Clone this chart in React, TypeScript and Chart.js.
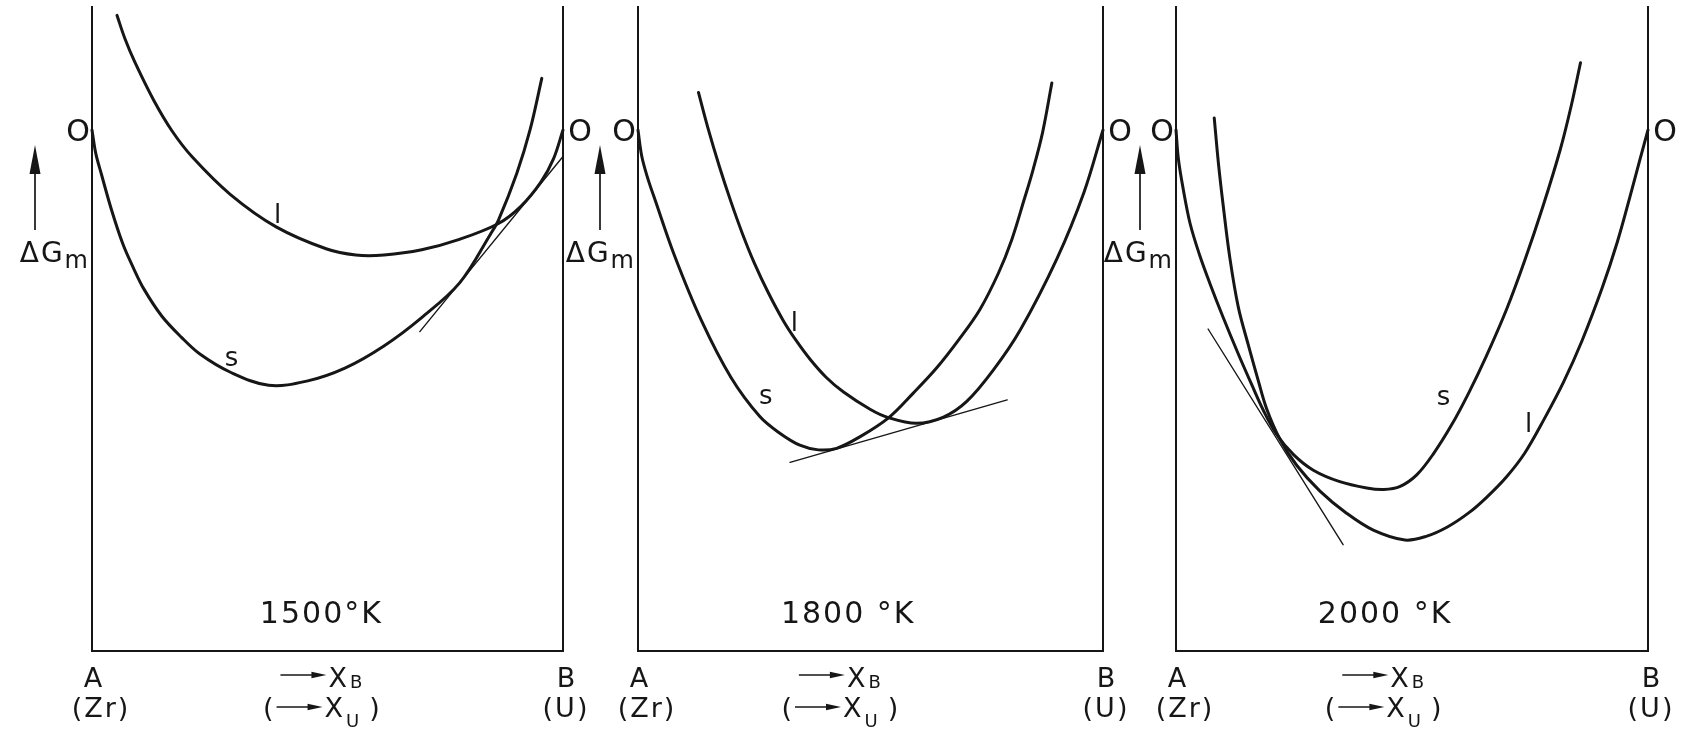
import React, { useEffect, useRef } from 'react';
import { Chart, registerables } from 'chart.js';

Chart.register(...registerables);

// ---------- data (x = mole fraction of B, y = ΔG_m in arbitrary units) ----------
const Y_MIN = -10;
const Y_MAX = 2.36;

// 1500 °K
const S1_X = [0, 0.008, 0.02, 0.042, 0.066, 0.088, 0.11, 0.148, 0.19, 0.229, 0.294, 0.375, 0.456, 0.537, 0.619, 0.7, 0.781, 0.846, 0.863, 0.902, 0.93, 0.955];
const S1_Y = [0, -0.45, -0.85, -1.55, -2.2, -2.65, -3.05, -3.57, -3.98, -4.3, -4.65, -4.9, -4.82, -4.57, -4.15, -3.6, -2.93, -2.0, -1.73, -0.83, 0.0, 0.99];
const L1_X = [0.053, 0.07, 0.091, 0.131, 0.17, 0.213, 0.294, 0.391, 0.497, 0.56, 0.62, 0.7, 0.78, 0.862, 0.91, 0.953, 0.98, 1.0];
const L1_Y = [2.2, 1.75, 1.3, 0.57, -0.02, -0.52, -1.24, -1.86, -2.28, -2.4, -2.4, -2.3, -2.1, -1.8, -1.47, -1.0, -0.55, 0];
const T1_X = [0.696, 1.0];
const T1_Y = [-3.87, -0.51];

// 1800 °K
const S2_X = [0, 0.008, 0.02, 0.037, 0.078, 0.136, 0.2, 0.262, 0.305, 0.348, 0.388, 0.427, 0.477, 0.538, 0.592, 0.642, 0.692, 0.735, 0.775, 0.804, 0.83, 0.85, 0.87, 0.89];
const S2_Y = [0, -0.5, -0.9, -1.35, -2.4, -3.65, -4.75, -5.5, -5.82, -6.05, -6.14, -6.11, -5.89, -5.53, -5.05, -4.57, -4.0, -3.45, -2.75, -2.1, -1.35, -0.75, -0.05, 0.9];
const L2_X = [0.13, 0.15, 0.175, 0.2, 0.225, 0.25, 0.28, 0.3125, 0.34, 0.37, 0.405, 0.442, 0.499, 0.538, 0.599, 0.657, 0.707, 0.764, 0.822, 0.901, 0.959, 1.0];
const L2_Y = [0.72, 0.05, -0.7, -1.38, -2.0, -2.55, -3.12, -3.66, -4.04, -4.4, -4.75, -5.03, -5.36, -5.52, -5.63, -5.51, -5.21, -4.61, -3.84, -2.47, -1.2, 0];
const T2_X = [0.327, 0.794];
const T2_Y = [-6.38, -5.18];

// 2000 °K
const S3_X = [0, 0.005, 0.015, 0.03, 0.05, 0.072, 0.1, 0.132, 0.16, 0.185, 0.213, 0.249, 0.291, 0.347, 0.404, 0.44, 0.475, 0.51, 0.545, 0.584, 0.62, 0.657, 0.7, 0.739, 0.778, 0.814, 0.837, 0.857];
const S3_Y = [0, -0.55, -1.12, -1.8, -2.4, -2.95, -3.6, -4.3, -4.88, -5.38, -5.84, -6.23, -6.53, -6.75, -6.87, -6.9, -6.84, -6.62, -6.22, -5.66, -5.05, -4.35, -3.45, -2.5, -1.45, -0.38, 0.45, 1.29];
const L3_X = [0.081, 0.09, 0.1, 0.114, 0.132, 0.153, 0.174, 0.192, 0.22, 0.256, 0.305, 0.362, 0.418, 0.485, 0.53, 0.575, 0.62, 0.657, 0.7, 0.739, 0.78, 0.821, 0.86, 0.903, 0.935, 0.961, 0.982, 1.0];
const L3_Y = [0.23, -0.65, -1.45, -2.45, -3.4, -4.12, -4.8, -5.35, -5.93, -6.44, -6.93, -7.36, -7.68, -7.87, -7.8, -7.62, -7.35, -7.06, -6.66, -6.2, -5.55, -4.84, -4.05, -3.03, -2.15, -1.31, -0.6, 0];
const T3_X = [0.068, 0.354];
const T3_Y = [-3.82, -7.96];

// ---------- texts ----------
const TEMP_LABELS = ['1500°K', '1800 °K', '2000 °K'];
const PHASE_S = 's';
const PHASE_L = 'l';
const ZERO_TEXT = 'O';
const END_A = ['A', '(Zr)'];
const END_B = ['B', '(U)'];
const AXIS_SUB_TOP = 'B';
const AXIS_SUB_BOTTOM = 'U';
const Y_TITLE = 'ΔG';
const Y_TITLE_SUB = 'm';

// ---------- layout (pixels / label anchors) ----------
const H = 735;
const TOP = 7;
const BOTTOM = 651;
const INK = '#161616';
const FONT = '"DejaVu Sans", "Liberation Sans", sans-serif';

const LAYOUT = [
  { left: 0, width: 610, a: 92, b: 563, arrowDx: -57, tempU: 0.487, axisU: 0.487, sLab: [0.296, -4.4], lLab: [0.394, -1.6] },
  { left: 540, width: 600, a: 638, b: 1103, arrowDx: -38, tempU: 0.452, axisU: 0.434, sLab: [0.275, -5.12], lLab: [0.336, -3.66] },
  { left: 1080, width: 608, a: 1176, b: 1648, arrowDx: -36, tempU: 0.443, axisU: 0.439, sLab: [0.567, -5.15], lLab: [0.747, -5.6] },
];

const zip = (xs: number[], ys: number[]) => xs.map((x, i) => ({ x, y: ys[i] }));

const PANELS = [
  { s: zip(S1_X, S1_Y), l: zip(L1_X, L1_Y), t: zip(T1_X, T1_Y), temp: TEMP_LABELS[0] },
  { s: zip(S2_X, S2_Y), l: zip(L2_X, L2_Y), t: zip(T2_X, T2_Y), temp: TEMP_LABELS[1] },
  { s: zip(S3_X, S3_Y), l: zip(L3_X, L3_Y), t: zip(T3_X, T3_Y), temp: TEMP_LABELS[2] },
];

function setFont(ctx: CanvasRenderingContext2D, size: number, spacing = 0) {
  ctx.font = `${size}px ${FONT}`;
  (ctx as any).letterSpacing = `${spacing}px`;
}

function arrowRight(ctx: CanvasRenderingContext2D, x1: number, x2: number, y: number) {
  ctx.lineWidth = 1.4;
  ctx.beginPath();
  ctx.moveTo(x1, y);
  ctx.lineTo(x2 - 8, y);
  ctx.stroke();
  ctx.beginPath();
  ctx.moveTo(x2, y);
  ctx.lineTo(x2 - 15, y - 3.2);
  ctx.lineTo(x2 - 15, y + 3.2);
  ctx.closePath();
  ctx.fill();
}

function composition(ctx: CanvasRenderingContext2D, cx: number, baseY: number, sub: string, subDy: number, arrowDy: number, paren: boolean) {
  const big = 27;
  const small = 18;
  const arrowLen = 46;
  setFont(ctx, big);
  const wOpen = paren ? ctx.measureText('(').width + 3 : 0;
  const wX = ctx.measureText('X').width;
  const wClose = paren ? ctx.measureText(')').width + 10 : 0;
  setFont(ctx, small);
  const wSub = ctx.measureText(sub).width;
  const total = wOpen + arrowLen + 2 + wX + 3 + wSub + wClose;
  let x = cx - total / 2;
  ctx.textAlign = 'left';
  if (paren) {
    setFont(ctx, big);
    ctx.fillText('(', x, baseY);
    x += wOpen;
  }
  arrowRight(ctx, x, x + arrowLen, baseY + arrowDy);
  x += arrowLen + 2;
  setFont(ctx, big);
  ctx.fillText('X', x, baseY);
  x += wX + 3;
  setFont(ctx, small);
  ctx.fillText(sub, x, baseY + subDy);
  x += wSub;
  if (paren) {
    setFont(ctx, big);
    ctx.fillText(')', x + 10, baseY);
  }
}

function makeTextPlugin(idx: number) {
  const p = LAYOUT[idx];
  return {
    id: 'figureText' + idx,
    afterDraw(chart: any) {
      const { ctx, chartArea } = chart;
      const xs = chart.scales.x;
      const ys = chart.scales.y;
      const y0 = ys.getPixelForValue(0);
      const left = chartArea.left;
      const right = chartArea.right;
      const bottom = chartArea.bottom;
      ctx.save();
      ctx.fillStyle = INK;
      ctx.strokeStyle = INK;
      ctx.textBaseline = 'alphabetic';

      // zero marks
      setFont(ctx, 30);
      ctx.textAlign = 'center';
      ctx.fillText(ZERO_TEXT, left - 14, y0 + 11);
      ctx.fillText(ZERO_TEXT, right + 17, y0 + 11);

      // ΔG_m with arrow
      setFont(ctx, 28, 2);
      const wDG = ctx.measureText(Y_TITLE).width;
      setFont(ctx, 24);
      const wM = ctx.measureText(Y_TITLE_SUB).width;
      const startX = left - 4 - (wDG + wM);
      ctx.textAlign = 'left';
      setFont(ctx, 28, 2);
      ctx.fillText(Y_TITLE, startX, y0 + 132);
      setFont(ctx, 24);
      ctx.fillText(Y_TITLE_SUB, startX + wDG, y0 + 138);
      const ax = left + p.arrowDx;
      ctx.lineWidth = 1.7;
      ctx.beginPath();
      ctx.moveTo(ax, y0 + 100);
      ctx.lineTo(ax, y0 + 38);
      ctx.stroke();
      ctx.beginPath();
      ctx.moveTo(ax, y0 + 15);
      ctx.lineTo(ax - 5.5, y0 + 44);
      ctx.lineTo(ax + 5.5, y0 + 44);
      ctx.closePath();
      ctx.fill();

      // phase labels
      setFont(ctx, 26);
      ctx.textAlign = 'center';
      ctx.fillText(PHASE_S, xs.getPixelForValue(p.sLab[0]), ys.getPixelForValue(p.sLab[1]) + 7);
      ctx.fillText(PHASE_L, xs.getPixelForValue(p.lLab[0]), ys.getPixelForValue(p.lLab[1]) + 10);

      // temperature
      setFont(ctx, 30, 2);
      ctx.textAlign = 'center';
      ctx.fillText(PANELS[idx].temp, xs.getPixelForValue(p.tempU), bottom - 28);

      // ends
      setFont(ctx, 27);
      ctx.fillText(END_A[0], left + 1, bottom + 36);
      ctx.fillText(END_B[0], right + 3, bottom + 36);
      setFont(ctx, 27, 2);
      ctx.fillText(END_A[1], left + 9, bottom + 66);
      ctx.fillText(END_B[1], right + 3, bottom + 66);

      // composition axis
      const cx = xs.getPixelForValue(p.axisU);
      composition(ctx, cx, bottom + 36, AXIS_SUB_TOP, 1, -12, false);
      composition(ctx, cx, bottom + 66, AXIS_SUB_BOTTOM, 10, -10, true);

      ctx.restore();
    },
  };
}

const hiddenAxis = (position: string, min?: number, max?: number) => ({
  type: 'linear' as const,
  position,
  min,
  max,
  grid: { display: false, drawTicks: false },
  ticks: { display: false },
  border: { display: true, color: INK, width: 2 },
  title: { display: false },
});

function Panel({ idx }: { idx: number }) {
  const ref = useRef<HTMLCanvasElement>(null);
  const p = LAYOUT[idx];
  useEffect(() => {
    const data = PANELS[idx];
    const line = (pts: any[], width: number, tension: number) => ({
      data: pts,
      showLine: true,
      borderColor: INK,
      borderWidth: width,
      pointRadius: 0,
      pointHoverRadius: 0,
      fill: false,
      cubicInterpolationMode: 'default' as const,
      tension,
      borderCapStyle: 'round' as const,
      borderJoinStyle: 'round' as const,
      clip: false as any,
    });
    const chart = new Chart(ref.current as HTMLCanvasElement, {
      type: 'scatter',
      data: {
        datasets: [
          { label: PHASE_S, ...line(data.s, 3, 0.35) },
          { label: PHASE_L, ...line(data.l, 3, 0.35) },
          { label: 'tangent', ...line(data.t, 1.4, 0) },
        ],
      },
      options: {
        responsive: false,
        animation: false,
        devicePixelRatio: 1,
        events: [],
        layout: { padding: { left: p.a - p.left, right: p.left + p.width - p.b, top: TOP, bottom: H - BOTTOM } },
        plugins: { legend: { display: false }, tooltip: { enabled: false } },
        scales: {
          x: hiddenAxis('bottom', 0, 1) as any,
          y: hiddenAxis('left', Y_MIN, Y_MAX) as any,
          y2: hiddenAxis('right', Y_MIN, Y_MAX) as any,
        },
      },
      plugins: [makeTextPlugin(idx)],
    });
    return () => chart.destroy();
  }, [idx]);
  return (
    <canvas
      ref={ref}
      width={p.width}
      height={H}
      style={{ position: 'absolute', left: p.left, top: 0, width: p.width, height: H }}
    />
  );
}

export default function App() {
  return (
    <div style={{ position: 'absolute', left: 0, top: 0, width: 1688, height: H, background: '#ffffff', overflow: 'hidden' }}>
      {LAYOUT.map((_, i) => (
        <Panel key={i} idx={i} />
      ))}
    </div>
  );
}
